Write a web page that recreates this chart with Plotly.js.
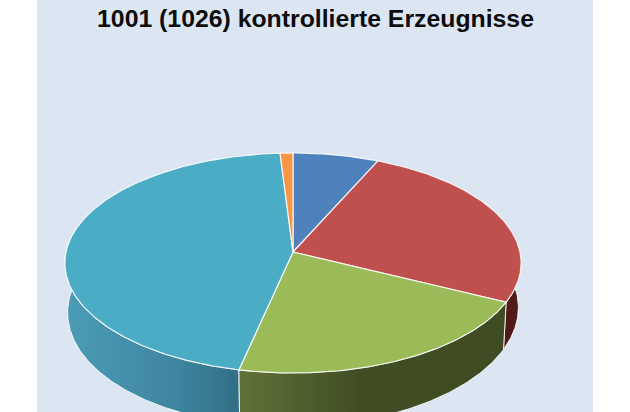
<!DOCTYPE html>
<html><head><meta charset="utf-8">
<script src="https://cdn.plot.ly/plotly-3.0.1.min.js"></script>
<style>html,body{margin:0;padding:0;background:#fff}</style></head>
<body><div id="chart" style="width:630px;height:412px"></div>
<script>
// Data (items out of 1001)
const sliceNames = ["Blau", "Rot", "Grün", "Türkis", "Orange"];
const sliceValues = [67, 256, 212, 456, 10];
const topColors = ["#4f81bd", "#c0504d", "#9bbb59", "#4bacc6", "#f79646"];
const wallScales = [
  null,
  [[0, "#4f1a18"], [1, "#4f1a18"]],
  [[0, "#5f7236"], [0.45, "#414e24"], [1, "#3f4b22"]],
  [[0, "#4b9cb6"], [0.6, "#3f87a1"], [1, "#326f87"]],
  null
];
const titleText = "<b>1001 (1026) kontrollierte Erzeugnisse</b>";

// Projection of the tilted disc onto the page
const apexX = 293, apexY = 252, radX = 227, radY = 108.9, tilt = 0.1, shrink = 0.012;
const depthBase = 47, depthU = -2.5, depthV = -3.5;
const rad = d => d * Math.PI / 180;
function project(deg, h) {
  const u = Math.sin(rad(deg)), v = Math.cos(rad(deg));
  const w = 1 + tilt * v + shrink * h;
  const depth = depthBase + depthU * u + depthV * v;
  return [apexX + radX * u / w, apexY + (-radY * v + depth * h) / w];
}
function rim(a, b, h) {
  const n = Math.max(2, Math.ceil(Math.abs(b - a) / 0.5)), pts = [];
  for (let i = 0; i <= n; i++) pts.push(project(a + (b - a) * i / n, h));
  return pts;
}
const total = sliceValues.reduce((s, x) => s + x, 0);
let acc = 0;
const bounds = sliceValues.map(x => { const a = acc / total * 360; acc += x; return [a, acc / total * 360]; });
const edge = "rgba(255,255,255,0.85)";
const traces = [];

// Walls, back to front, only the part facing the viewer
[1, 3, 2].forEach(i => {
  const a = Math.max(bounds[i][0], 70), b = Math.min(bounds[i][1], 300);
  const pts = rim(a, b, 0).concat(rim(b, a, 1));
  pts.push(pts[0]);
  traces.push({
    type: "scatter", mode: "lines", name: sliceNames[i] + " Seite", hoverinfo: "skip",
    x: pts.map(p => p[0]), y: pts.map(p => p[1]),
    fill: "toself", line: {color: edge, width: 1},
    fillgradient: {type: "horizontal", colorscale: wallScales[i]}
  });
});

// Top faces
sliceValues.forEach((val, i) => {
  const pts = [[apexX, apexY]].concat(rim(bounds[i][0], bounds[i][1], 0));
  pts.push([apexX, apexY]);
  traces.push({
    type: "scatter", mode: "lines", name: sliceNames[i], text: String(val), hoverinfo: "name+text",
    x: pts.map(p => p[0]), y: pts.map(p => p[1]),
    fill: "toself", fillcolor: topColors[i], line: {color: edge, width: 1.2}
  });
});

const layout = {
  width: 630, height: 412, showlegend: false,
  paper_bgcolor: "#ffffff", plot_bgcolor: "#dce6f2",
  margin: {l: 37, r: 37, t: 0, b: 0, pad: 0},
  title: {text: titleText, x: 315.5 / 630, xref: "container", xanchor: "center",
          y: 1 - 18 / 412, yref: "container", yanchor: "middle",
          font: {family: "Liberation Sans, Arial, sans-serif", size: 24.8, color: "#0d0d0d"}},
  xaxis: {range: [37, 593], visible: false, fixedrange: true},
  yaxis: {range: [412, 0], visible: false, fixedrange: true}
};
Plotly.newPlot("chart", traces, layout, {displayModeBar: false, staticPlot: true});
</script></body></html>
